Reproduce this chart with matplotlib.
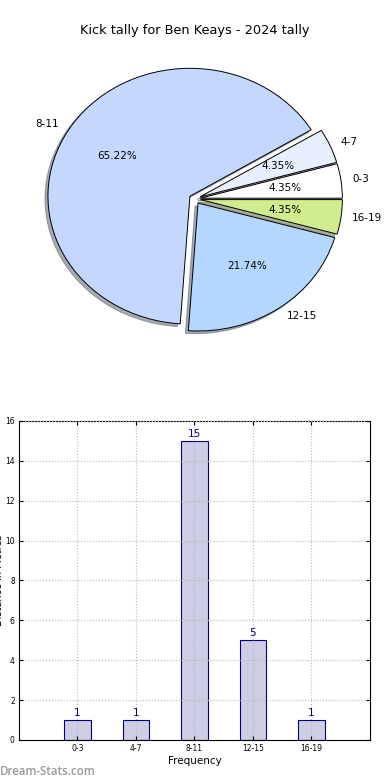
import matplotlib
matplotlib.use('Agg')
import matplotlib.pyplot as plt
import numpy as np

# data
ranges = ['0-3', '4-7', '8-11', '12-15', '16-19']
kicks = [1, 1, 15, 5, 1]
slice_colors = ['#ffffff', '#e8f0ff', '#c4d8ff', '#b4d7ff', '#d0ec8c']
title = 'Kick tally for Ben Keays - 2024 tally'

fig = plt.figure(figsize=(3.9, 7.8), dpi=100)

# pie on top, not equal aspect (gives the wide ellipse)
ax1 = fig.add_axes([0.0444, 0.540, 0.910, 0.410])
wedges, texts, autotexts = ax1.pie(kicks, labels=ranges, colors=slice_colors,
                                   explode=[0.04] * len(kicks), autopct='%1.2f%%',
                                   shadow={'ox': -0.015, 'oy': -0.015, 'shade': 0.6},
                                   startangle=0, labeldistance=1.08,
                                   wedgeprops={'edgecolor': 'black', 'linewidth': 0.7},
                                   textprops={'fontsize': 7.5})
ax1.set_aspect('auto')
ax1.set_xlim(-1.25, 1.25)
ax1.set_ylim(-1.25, 1.25)
fig.text(0.5, 0.961, title, ha='center', va='center', fontsize=9.3)

# bar chart below
ax2 = fig.add_axes([0.0487, 0.0513, 0.900, 0.409])
ind = np.arange(len(ranges))
bars = ax2.bar(ind, kicks, 0.45, color='#cdcde4', edgecolor='#000080', linewidth=0.8)
for x, v in zip(ind, kicks):
    ax2.text(x, v + 0.12, str(v), ha='center', va='bottom', color='#000080', fontsize=7.5)

ax2.set_xlim(-1, 5)
ax2.set_ylim(0, 16)
ax2.set_xticks(ind)
ax2.set_xticklabels(ranges)
ax2.set_yticks(np.arange(0, 17, 2))
ax2.tick_params(direction='in', top=True, right=True, labelsize=5.5, length=3, pad=3)
ax2.grid(True, linestyle=':', color='#b8b8b8', linewidth=0.8)
ax2.set_axisbelow(False)
ax2.set_xlabel('Frequency', fontsize=7.5, labelpad=2)
ax2.set_ylabel('Distance in Metres', fontsize=7)
ax2.yaxis.set_label_coords(-0.057, 0.5)
ax2.yaxis.label.set_va('center')

fig.text(0.0, 0.0115, 'Dream-Stats.com', color='#999999', fontsize=8.3,
         family='Open Sans', fontweight='semibold', ha='left', va='center')

plt.savefig('out.png', dpi=100)
